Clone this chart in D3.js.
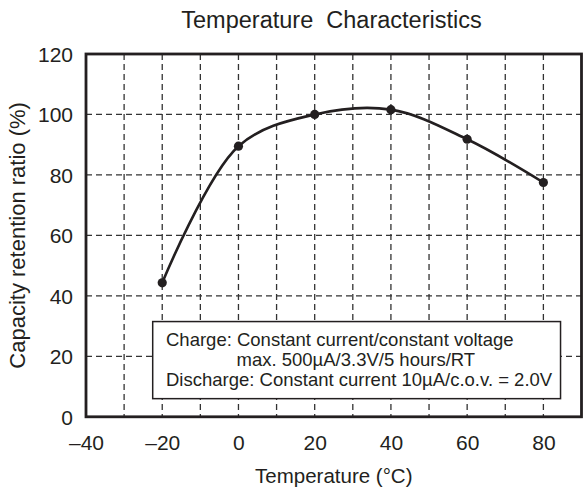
<!DOCTYPE html>
<html>
<head>
<meta charset="utf-8">
<script src="https://cdn.jsdelivr.net/npm/d3@7"></script>
<style>
  body { margin: 0; background: #fff; }
  text { font-family: "Liberation Sans", Arial, sans-serif; fill: #231f20; }
</style>
</head>
<body>
<div id="container"></div>
<script>
// data
var temps = [-20, 0, 20, 40, 60, 80];
var retention = [44.3, 89.5, 100, 101.6, 91.8, 77.5];
var xTicks = [-40, -20, 0, 20, 40, 60, 80];
var yTicks = [0, 20, 40, 60, 80, 100, 120];
var xGrid = [-30, -20, -10, 0, 10, 20, 30, 40, 50, 60, 70, 80];
var yGrid = [20, 40, 60, 80, 100];
var noteLines = [
  "Charge: Constant current/constant voltage",
  "max. 500\u00b5A/3.3V/5 hours/RT",
  "Discharge: Constant current 10\u00b5A/c.o.v. = 2.0V"
];

var width = 583, height = 492;
// plot frame (pixels)
var plotL = 86, plotR = 581.5, plotT = 54, plotB = 416.8;
var ink = "#231f20";

var svg = d3.select("#container").append("svg")
  .attr("width", width)
  .attr("height", height);

var x = d3.scaleLinear().domain([-40, 90]).range([plotL, plotR]);
var y = d3.scaleLinear().domain([0, 120]).range([plotB, plotT]);

// grid
svg.append("g").selectAll("line").data(xGrid).enter().append("line")
  .attr("x1", d => x(d)).attr("x2", d => x(d))
  .attr("y1", plotT).attr("y2", plotB)
  .attr("stroke", "#333").attr("stroke-width", 1.3)
  .attr("stroke-dasharray", "6,4");
svg.append("g").selectAll("line").data(yGrid).enter().append("line")
  .attr("x1", plotL).attr("x2", plotR)
  .attr("y1", d => y(d)).attr("y2", d => y(d))
  .attr("stroke", "#333").attr("stroke-width", 1.3)
  .attr("stroke-dasharray", "6,4");

// note box
var box = svg.append("g");
box.append("rect")
  .attr("x", x(-22.5)).attr("y", y(31.5))
  .attr("width", x(84.5) - x(-22.5)).attr("height", y(6) - y(31.5))
  .attr("fill", "#fff").attr("stroke", ink).attr("stroke-width", 1.5);
box.selectAll("text").data(noteLines).enter().append("text")
  .attr("x", (d, i) => i == 1 ? 236.5 : 166)
  .attr("y", (d, i) => 346 + i * 20)
  .attr("font-size", 18.5)
  .text(d => d);

// curve
var pts = temps.map((t, i) => [t, retention[i]]);
var line = d3.line()
  .x(d => x(d[0])).y(d => y(d[1]))
  .curve(d3.curveCatmullRom.alpha(0.5));
svg.append("path").datum(pts)
  .attr("d", line)
  .attr("fill", "none").attr("stroke", ink).attr("stroke-width", 2.6);
svg.append("g").selectAll("circle").data(pts).enter().append("circle")
  .attr("cx", d => x(d[0])).attr("cy", d => y(d[1]))
  .attr("r", 4.6).attr("fill", ink);

// frame
svg.append("rect")
  .attr("x", plotL).attr("y", plotT)
  .attr("width", plotR - plotL).attr("height", plotB - plotT)
  .attr("fill", "none").attr("stroke", ink).attr("stroke-width", 2.8);

// axes (labels only)
var xAxis = d3.axisBottom(x).tickValues(xTicks).tickSize(0).tickPadding(0)
  .tickFormat(d => d < 0 ? "\u2013" + Math.abs(d) : d);
var gx = svg.append("g").attr("transform", "translate(0," + plotB + ")").call(xAxis);
gx.select(".domain").remove();
gx.selectAll("text").attr("font-size", 21).attr("font-family", null)
  .attr("dy", null).attr("y", 33).attr("fill", ink);

var yAxis = d3.axisLeft(y).tickValues(yTicks).tickSize(0).tickPadding(13);
var gy = svg.append("g").attr("transform", "translate(" + plotL + ",0)").call(yAxis);
gy.select(".domain").remove();
gy.selectAll("text").attr("font-size", 21).attr("font-family", null)
  .attr("dy", "0.35em").attr("fill", ink);

// titles
svg.append("text")
  .attr("x", 331.5).attr("y", 28)
  .attr("text-anchor", "middle").attr("font-size", 23.5)
  .attr("xml:space", "preserve")
  .text("Temperature  Characteristics");

svg.append("text")
  .attr("x", (plotL + plotR) / 2).attr("y", 483)
  .attr("text-anchor", "middle").attr("font-size", 20.5)
  .text("Temperature (\u00b0C)");

svg.append("text")
  .attr("transform", "translate(25," + (plotT + plotB) / 2 + ") rotate(-90)")
  .attr("text-anchor", "middle").attr("font-size", 22)
  .text("Capacity retention ratio (%)");
</script>
</body>
</html>
